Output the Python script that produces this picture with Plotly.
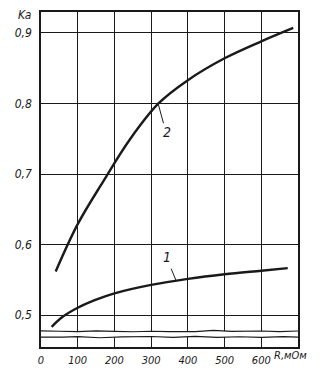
import plotly.graph_objects as go

# Curve 1 (lower)
r1 = [29, 60, 100, 150, 200, 300, 400, 500, 600, 672]
k1 = [0.4835, 0.498, 0.5105, 0.522, 0.531, 0.543, 0.5515, 0.558, 0.563, 0.5666]
# Curve 2 (upper)
r2 = [40, 100, 170, 242, 320, 400, 500, 600, 687]
k2 = [0.562, 0.629, 0.690, 0.749, 0.800, 0.833, 0.864, 0.888, 0.907]

x_ticks = [0, 100, 200, 300, 400, 500, 600, 700]
x_text = ["0", "100", "200", "300", "400", "500", "600", ""]
y_ticks = [0.5, 0.6, 0.7, 0.8, 0.9]
y_text = ["0,5", "0,6", "0,7", "0,8", "0,9"]

FONT = "DejaVu Sans Condensed, Liberation Sans Narrow, Roboto, sans-serif"
INK = "#1a1a1a"

fig = go.Figure()
fig.add_trace(go.Scatter(x=r1, y=k1, mode="lines", line=dict(color=INK, width=2.4, shape="spline", smoothing=1),
                         showlegend=False, hoverinfo="skip"))
fig.add_trace(go.Scatter(x=r2, y=k2, mode="lines", line=dict(color=INK, width=2.4, shape="spline", smoothing=1),
                         showlegend=False, hoverinfo="skip"))

# axis break decoration
top_w = [(0, 0.4778), (50, 0.4772), (100, 0.4768), (150, 0.4778), (200, 0.4770), (250, 0.4765),
         (300, 0.4772), (350, 0.4768), (420, 0.4768), (470, 0.4784), (520, 0.4770), (600, 0.4776), (650, 0.4768), (700, 0.4776)]
bot_w = [(0, 0.4690), (60, 0.4688), (100, 0.4695), (160, 0.4680), (220, 0.4692), (300, 0.4698),
         (360, 0.4686), (420, 0.4700), (480, 0.4686), (540, 0.4694), (600, 0.4684), (660, 0.4697), (700, 0.4690)]

def pth(pts):
    return "M " + " L ".join(f"{x},{y}" for x, y in pts)

fill_path = pth(top_w) + " L " + " L ".join(f"{x},{y}" for x, y in reversed(bot_w)) + " Z"
fig.add_shape(type="path", path=fill_path, xref="x", yref="y", fillcolor="white",
              line=dict(width=0), layer="between")
fig.add_shape(type="path", path=pth(top_w), xref="x", yref="y", line=dict(color=INK, width=1.2), layer="between")
fig.add_shape(type="path", path=pth(bot_w), xref="x", yref="y", line=dict(color=INK, width=1.2), layer="between")

# leader lines for curve labels
fig.add_shape(type="line", x0=320, y0=0.798, x1=333.5, y1=0.772, xref="x", yref="y", line=dict(color=INK, width=1))
fig.add_shape(type="line", x0=354.5, y0=0.5658, x1=368, y1=0.549, xref="x", yref="y", line=dict(color=INK, width=1))

fig.add_annotation(x=343, y=0.759, text="2", showarrow=False, xref="x", yref="y",
                   font=dict(family=FONT, size=14, color=INK, style="italic"))
fig.add_annotation(x=343, y=0.583, text="1", showarrow=False, xref="x", yref="y",
                   font=dict(family=FONT, size=14, color=INK, style="italic"))

pw, ph = 334 - 41 - 36, 378 - 10 - 31
fig.add_annotation(x=(24 - 41) / pw, y=1 - (13 - 10) / ph, xref="paper", yref="paper",
                   xanchor="center", yanchor="middle", text="Ka", showarrow=False,
                   font=dict(family=FONT, size=12, color=INK, style="italic"))
fig.add_annotation(x=(272 - 41) / pw, y=1 - (356 - 10) / ph, xref="paper", yref="paper",
                   xanchor="left", yanchor="middle", text="R,мОм", showarrow=False,
                   font=dict(family=FONT, size=11, color=INK, style="italic"))

fig.update_layout(
    width=334, height=378,
    margin=dict(l=41, r=36, t=10, b=31),
    paper_bgcolor="white", plot_bgcolor="white",
    font=dict(family=FONT, size=11, color=INK, style="italic"),
    xaxis=dict(range=[0, 700], tickvals=x_ticks, ticktext=x_text, showgrid=True, gridcolor=INK,
               gridwidth=1, zeroline=False, showline=True, linecolor=INK, linewidth=1.5, mirror=True,
               ticks="", ticklabelstandoff=2, tickfont=dict(family=FONT, size=11, color=INK, style="italic")),
    yaxis=dict(range=[0.4549, 0.9296], tickvals=y_ticks, ticktext=y_text, showgrid=True, gridcolor=INK,
               gridwidth=1, zeroline=False, showline=True, linecolor=INK, linewidth=1.5, mirror=True,
               ticks="", ticklabelstandoff=5, tickfont=dict(family=FONT, size=12, color=INK, style="italic")),
)

fig.write_html("out.html")
